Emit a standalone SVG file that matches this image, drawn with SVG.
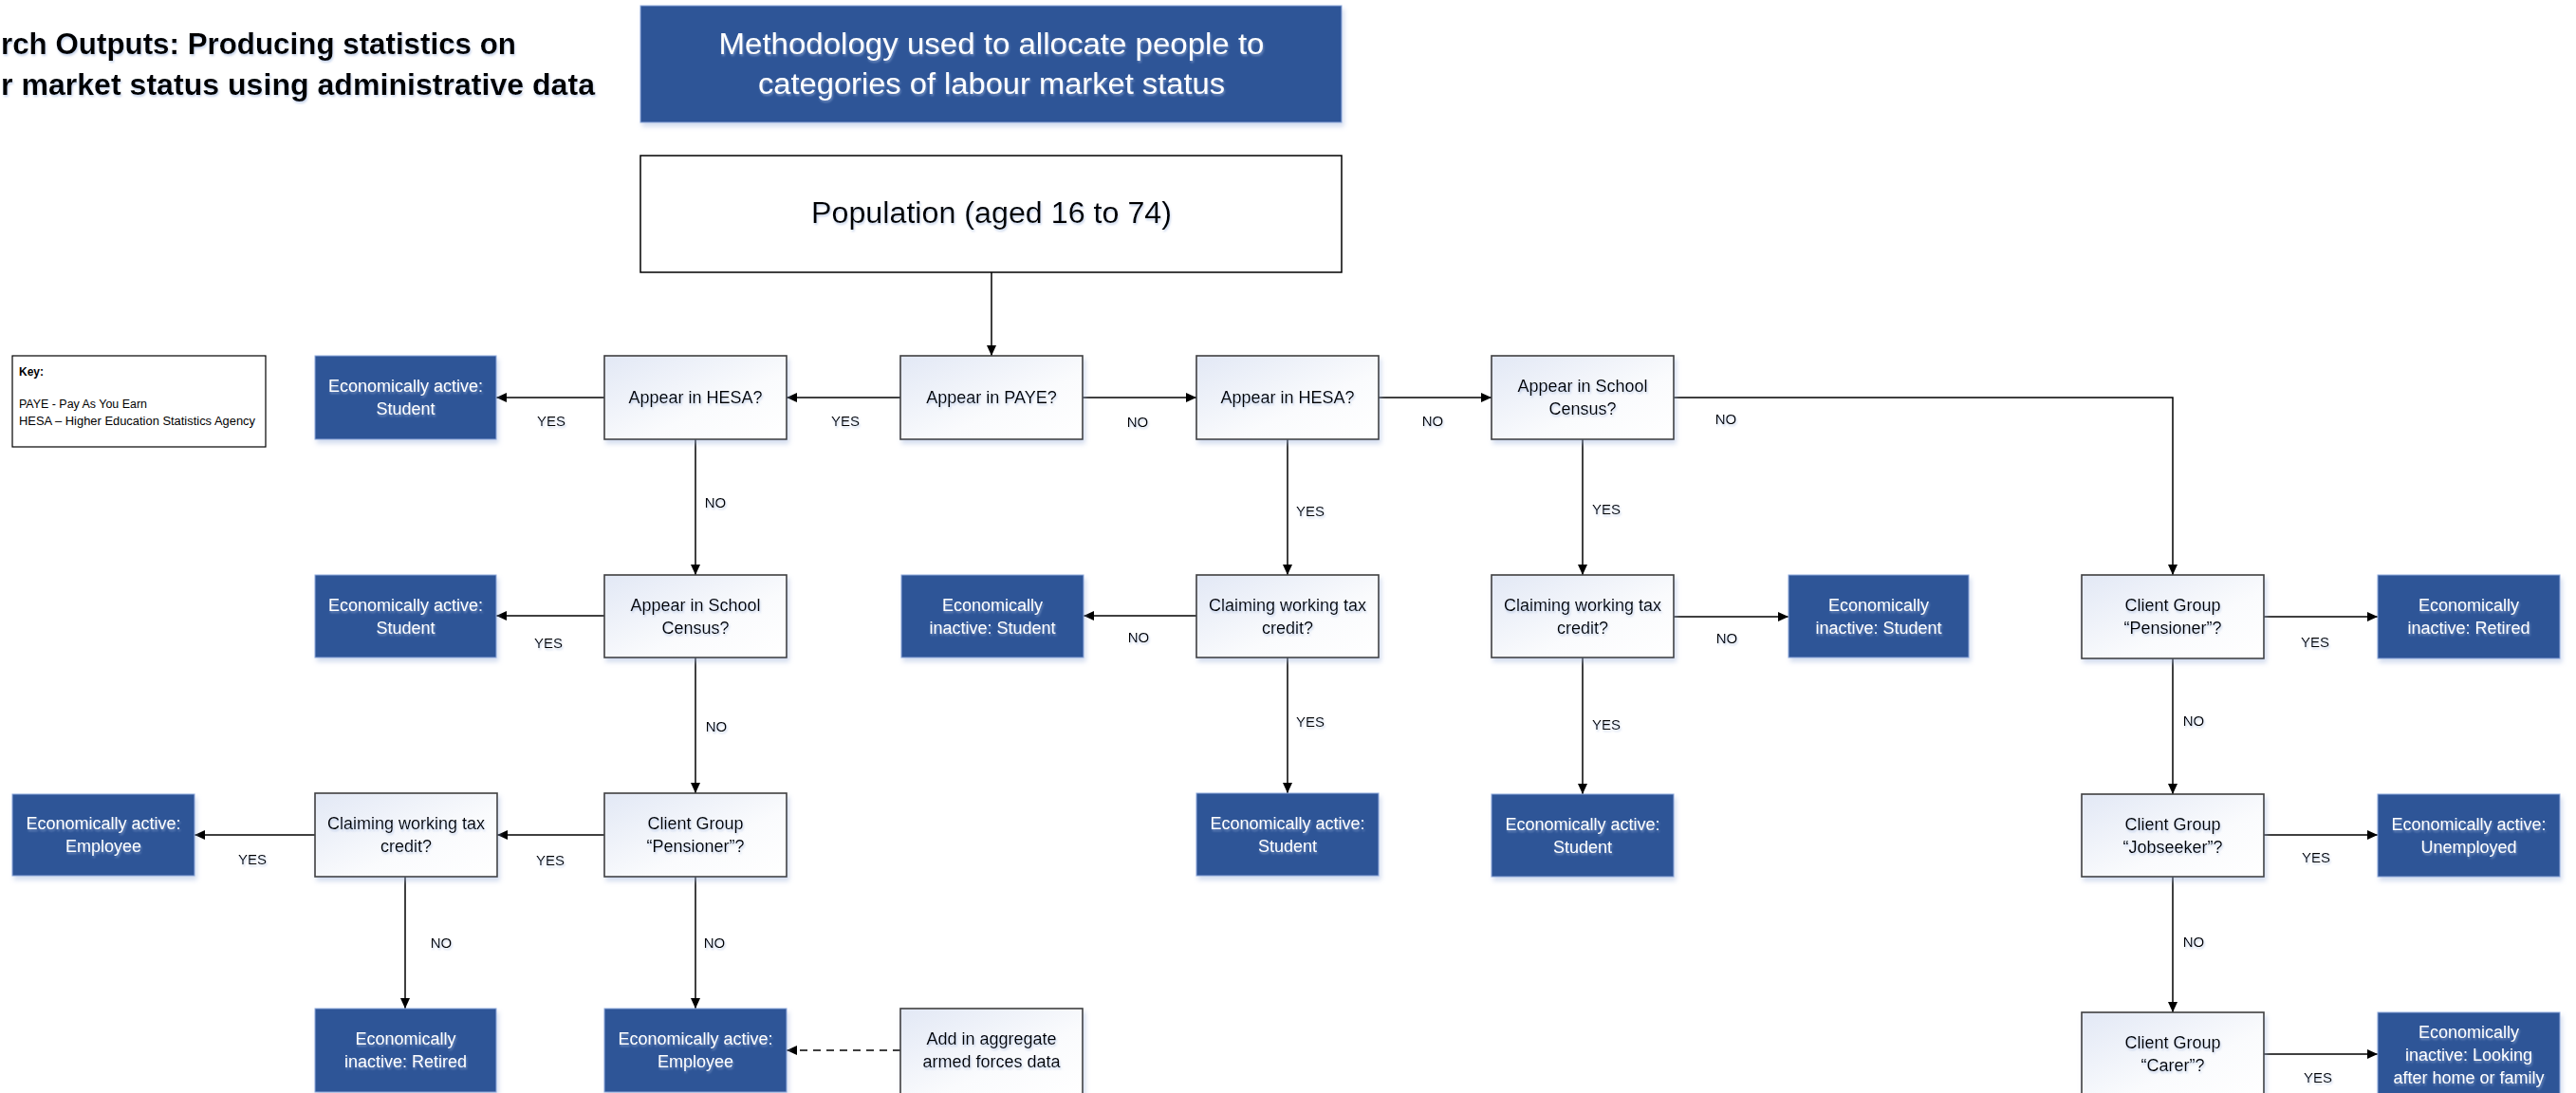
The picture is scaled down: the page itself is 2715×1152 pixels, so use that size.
<svg xmlns="http://www.w3.org/2000/svg" width="2715" height="1152" viewBox="0 0 2715 1152">
<defs>
<linearGradient id="g" x1="0" y1="0" x2="1" y2="1">
<stop offset="0" stop-color="#E2E8F5"/>
<stop offset="0.6" stop-color="#FAFBFD"/>
<stop offset="1" stop-color="#FFFFFF"/>
</linearGradient>
<filter id="sh" x="-10%" y="-10%" width="125%" height="130%">
<feDropShadow dx="2" dy="4" stdDeviation="2.5" flood-color="#9DB2DC" flood-opacity="0.45"/>
</filter>
<filter id="tsh" x="-10%" y="-20%" width="130%" height="160%">
<feDropShadow dx="1" dy="2" stdDeviation="1.2" flood-color="#9DB2DC" flood-opacity="0.55"/>
</filter>
<marker id="arr" markerUnits="userSpaceOnUse" markerWidth="11" markerHeight="10" refX="11" refY="5" orient="auto">
<path d="M0,0 L11,5 L0,10 z" fill="#000"/>
</marker>
<style>
.dec{fill:url(#g);stroke:#3F3F3F;stroke-width:1.6;filter:url(#sh)}
.term{fill:#2F5597;stroke:#8EA9DB;stroke-width:1;filter:url(#sh)}
.t{font-family:"Liberation Sans",Arial,sans-serif;font-size:18px;text-anchor:middle;fill:#000;filter:url(#tsh)}
.big{font-size:31px}
.w{fill:#FFFFFF}
.lbl{font-family:"Liberation Sans",Arial,sans-serif;font-size:15px;text-anchor:middle;fill:#000;filter:url(#tsh)}
.c{stroke:#000;stroke-width:1.5;fill:none;marker-end:url(#arr)}
.d{stroke-dasharray:8,6}
</style>
</defs>
<rect width="2715" height="1152" fill="#FFFFFF"/>

<g id="title" font-family="Liberation Sans, Arial, sans-serif" font-weight="bold" font-size="31" fill="#000" filter="url(#tsh)">
<text x="1" y="57" textLength="543" lengthAdjust="spacingAndGlyphs">rch Outputs: Producing statistics on</text>
<text x="1" y="100" textLength="626" lengthAdjust="spacingAndGlyphs">r market status using administrative data</text>
</g>

<g id="heading">
<rect x="675" y="6" width="739" height="123" class="term"/>
<text class="t big w" x="1045" y="57" textLength="575" lengthAdjust="spacingAndGlyphs">Methodology used to allocate people to</text>
<text class="t big w" x="1045" y="99" textLength="492" lengthAdjust="spacingAndGlyphs">categories of labour market status</text>
</g>

<g id="population">
<rect x="675" y="164" width="739" height="123" fill="#FFFFFF" stroke="#000" stroke-width="1.5"/>
<text class="t big" x="1045" y="235" textLength="380" lengthAdjust="spacingAndGlyphs">Population (aged 16 to 74)</text>
</g>

<g id="key">
<rect x="13" y="375" width="267" height="96" fill="#FFFFFF" stroke="#000" stroke-width="1.2"/>
<text x="20" y="396" font-family="Liberation Sans, Arial, sans-serif" font-size="12" font-weight="bold">Key:</text>
<text x="20" y="430" font-family="Liberation Sans, Arial, sans-serif" font-size="12" textLength="135" lengthAdjust="spacingAndGlyphs">PAYE - Pay As You Earn</text>
<text x="20" y="448" font-family="Liberation Sans, Arial, sans-serif" font-size="12" textLength="249" lengthAdjust="spacingAndGlyphs">HESA – Higher Education Statistics Agency</text>
</g>

<g id="connectors">
<path class="c" d="M1045,287 V375"/>
<path class="c" d="M949,419 H829"/>
<path class="c" d="M637,419 H523"/>
<path class="c" d="M733,463 V606"/>
<path class="c" d="M637,649 H523"/>
<path class="c" d="M733,693 V836"/>
<path class="c" d="M637,880 H524"/>
<path class="c" d="M332,880 H205"/>
<path class="c" d="M427,924 V1063"/>
<path class="c" d="M733,924 V1063"/>
<path class="c d" d="M949,1107 H829"/>
<path class="c" d="M1141,419 H1261"/>
<path class="c" d="M1453,419 H1572"/>
<path class="c" d="M1764,419 H2290 V606"/>
<path class="c" d="M1357,463 V606"/>
<path class="c" d="M1261,649 H1142"/>
<path class="c" d="M1357,693 V836"/>
<path class="c" d="M1668,463 V606"/>
<path class="c" d="M1764,650 H1885"/>
<path class="c" d="M1668,693 V837"/>
<path class="c" d="M2386,650 H2506"/>
<path class="c" d="M2290,694 V837"/>
<path class="c" d="M2386,880 H2506"/>
<path class="c" d="M2290,924 V1067"/>
<path class="c" d="M2386,1111 H2506"/>
<text class="lbl" x="891" y="449">YES</text>
<text class="lbl" x="581" y="449">YES</text>
<text class="lbl" x="754" y="535">NO</text>
<text class="lbl" x="578" y="683">YES</text>
<text class="lbl" x="755" y="771">NO</text>
<text class="lbl" x="580" y="912">YES</text>
<text class="lbl" x="266" y="911">YES</text>
<text class="lbl" x="465" y="999">NO</text>
<text class="lbl" x="753" y="999">NO</text>
<text class="lbl" x="1199" y="450">NO</text>
<text class="lbl" x="1510" y="449">NO</text>
<text class="lbl" x="1819" y="447">NO</text>
<text class="lbl" x="1381" y="544">YES</text>
<text class="lbl" x="1200" y="677">NO</text>
<text class="lbl" x="1381" y="766">YES</text>
<text class="lbl" x="1693" y="542">YES</text>
<text class="lbl" x="1820" y="678">NO</text>
<text class="lbl" x="1693" y="769">YES</text>
<text class="lbl" x="2440" y="682">YES</text>
<text class="lbl" x="2312" y="765">NO</text>
<text class="lbl" x="2441" y="909">YES</text>
<text class="lbl" x="2312" y="998">NO</text>
<text class="lbl" x="2443" y="1141">YES</text>
</g>

<g id="n_ea_student1"><rect class="term" x="332" y="375" width="191" height="88"/><text class="t w" x="427.5" y="413">Economically active:</text><text class="t w" x="427.5" y="437">Student</text></g>
<g id="n_hesa_l"><rect class="dec" x="637" y="375" width="192" height="88"/><text class="t" x="733" y="425">Appear in HESA?</text></g>
<g id="n_paye"><rect class="dec" x="949" y="375" width="192" height="88"/><text class="t" x="1045" y="425">Appear in PAYE?</text></g>
<g id="n_hesa_m"><rect class="dec" x="1261" y="375" width="192" height="88"/><text class="t" x="1357" y="425">Appear in HESA?</text></g>
<g id="n_school_r"><rect class="dec" x="1572" y="375" width="192" height="88"/><text class="t" x="1668" y="413">Appear in School</text><text class="t" x="1668" y="437">Census?</text></g>

<g id="n_ea_student2"><rect class="term" x="332" y="606" width="191" height="87"/><text class="t w" x="427.5" y="643.5">Economically active:</text><text class="t w" x="427.5" y="667.5">Student</text></g>
<g id="n_school_l"><rect class="dec" x="637" y="606" width="192" height="87"/><text class="t" x="733" y="643.5">Appear in School</text><text class="t" x="733" y="667.5">Census?</text></g>
<g id="n_ei_student_m"><rect class="term" x="950" y="606" width="192" height="87"/><text class="t w" x="1046" y="643.5">Economically</text><text class="t w" x="1046" y="667.5">inactive: Student</text></g>
<g id="n_wtc_m"><rect class="dec" x="1261" y="606" width="192" height="87"/><text class="t" x="1357" y="643.5">Claiming working tax</text><text class="t" x="1357" y="667.5">credit?</text></g>
<g id="n_wtc_r"><rect class="dec" x="1572" y="606" width="192" height="87"/><text class="t" x="1668" y="643.5">Claiming working tax</text><text class="t" x="1668" y="667.5">credit?</text></g>
<g id="n_ei_student_r"><rect class="term" x="1885" y="606" width="190" height="87"/><text class="t w" x="1980" y="643.5">Economically</text><text class="t w" x="1980" y="667.5">inactive: Student</text></g>
<g id="n_pens_r"><rect class="dec" x="2194" y="606" width="192" height="88"/><text class="t" x="2290" y="644">Client Group</text><text class="t" x="2290" y="668">“Pensioner”?</text></g>
<g id="n_ei_retired_r"><rect class="term" x="2506" y="606" width="192" height="88"/><text class="t w" x="2602" y="644">Economically</text><text class="t w" x="2602" y="668">inactive: Retired</text></g>

<g id="n_ea_employee1"><rect class="term" x="13" y="837" width="192" height="86"/><text class="t w" x="109" y="874">Economically active:</text><text class="t w" x="109" y="898">Employee</text></g>
<g id="n_wtc_l"><rect class="dec" x="332" y="836" width="192" height="88"/><text class="t" x="428" y="874">Claiming working tax</text><text class="t" x="428" y="898">credit?</text></g>
<g id="n_pens_l"><rect class="dec" x="637" y="836" width="192" height="88"/><text class="t" x="733" y="874">Client Group</text><text class="t" x="733" y="898">“Pensioner”?</text></g>
<g id="n_ea_student_m2"><rect class="term" x="1261" y="836" width="192" height="87"/><text class="t w" x="1357" y="873.5">Economically active:</text><text class="t w" x="1357" y="897.5">Student</text></g>
<g id="n_ea_student_r2"><rect class="term" x="1572" y="837" width="192" height="87"/><text class="t w" x="1668" y="874.5">Economically active:</text><text class="t w" x="1668" y="898.5">Student</text></g>
<g id="n_jobseeker"><rect class="dec" x="2194" y="837" width="192" height="87"/><text class="t" x="2290" y="874.5">Client Group</text><text class="t" x="2290" y="898.5">“Jobseeker”?</text></g>
<g id="n_ea_unemployed"><rect class="term" x="2506" y="837" width="192" height="87"/><text class="t w" x="2602" y="874.5">Economically active:</text><text class="t w" x="2602" y="898.5">Unemployed</text></g>

<g id="n_ei_retired_l"><rect class="term" x="332" y="1063" width="191" height="88"/><text class="t w" x="427.5" y="1101">Economically</text><text class="t w" x="427.5" y="1125">inactive: Retired</text></g>
<g id="n_ea_employee2"><rect class="term" x="637" y="1063" width="192" height="88"/><text class="t w" x="733" y="1101">Economically active:</text><text class="t w" x="733" y="1125">Employee</text></g>
<g id="n_armed"><rect class="dec" x="949" y="1063" width="192" height="92"/><text class="t" x="1045" y="1101">Add in aggregate</text><text class="t" x="1045" y="1125">armed forces data</text></g>
<g id="n_carer"><rect class="dec" x="2194" y="1067" width="192" height="92"/><text class="t" x="2290" y="1105">Client Group</text><text class="t" x="2290" y="1129">“Carer”?</text></g>
<g id="n_ei_home"><rect class="term" x="2506" y="1067" width="192" height="92"/><text class="t w" x="2602" y="1094">Economically</text><text class="t w" x="2602" y="1118">inactive: Looking</text><text class="t w" x="2602" y="1142">after home or family</text></g>
</svg>
